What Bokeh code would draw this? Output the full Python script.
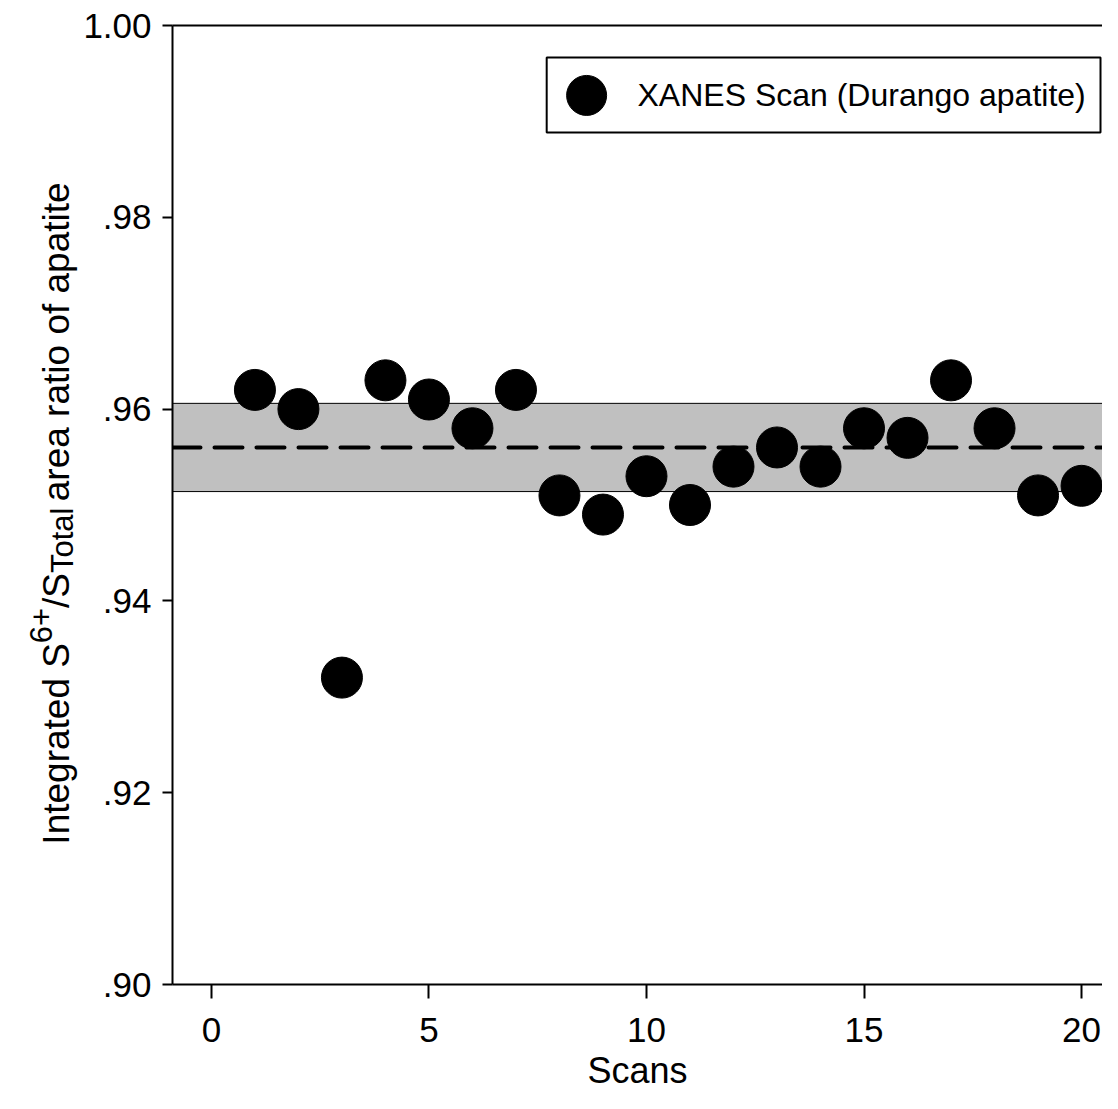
import math
from bokeh.plotting import figure
from bokeh.layouts import row
from bokeh.models import (Range1d, FixedTicker, Span, BoxAnnotation, Label,
                          LinearAxis, ColumnDataSource)
from bokeh.core.properties import value
from bokeh.embed import file_html
from bokeh.resources import INLINE

# ---------------- data ----------------
scans = list(range(1, 21))
ratio = [0.962, 0.960, 0.932, 0.963, 0.961, 0.958, 0.962, 0.951, 0.949, 0.953,
         0.950, 0.954, 0.956, 0.954, 0.958, 0.957, 0.963, 0.958, 0.951, 0.952]
mean_ratio = 0.956
band_low = 0.9514
band_high = 0.9606
x_ticks = [0, 5, 10, 15, 20]
y_ticks = [0.90, 0.92, 0.94, 0.96, 0.98, 1.00]
y_tick_labels = [".90", ".92", ".94", ".96", ".98", "1.00"]
legend_label = "XANES Scan (Durango apatite)"
x_title = "Scans"
y_title_parts = [("Integrated S", "main"), ("6+", "sup"), ("/S", "main"),
                 ("Total", "sub"), (" area ratio of apatite", "main")]

# ---------------- layout (page pixels) ----------------
FONT = "Liberation Sans"
TOTAL_W, H = 1102, 1093
TW = 80                      # width of the y-title strip
W = TOTAL_W - TW             # main figure width
FRAME_L = 170                # frame left (page px)
FRAME_T = 25
FRAME_H = 960
FRAME_B = FRAME_T + FRAME_H
FRAME_W = TOTAL_W - FRAME_L
px_per_x = 43.6
x_start = -(209 - FRAME_L) / px_per_x
x_end = x_start + FRAME_W / px_per_x
y_start, y_end = 0.90, 1.00


def dx(px):
    return x_start + (px - FRAME_L) / px_per_x


def dy(py):
    return y_end - (py - FRAME_T) / FRAME_H * (y_end - y_start)


AW = {'I': .278, 'n': .556, 't': .278, 'e': .556, 'g': .556, 'r': .333, 'a': .556,
      'd': .556, ' ': .278, 'S': .667, '6': .556, '+': .584, '/': .278, 'T': .611,
      'o': .556, 'l': .222, 'i': .222, 'f': .278, 'p': .556}


def text_w(s, size):
    return sum(AW.get(c, .556) for c in s) * size


y_range = Range1d(y_start, y_end)

# ---------------- main figure ----------------
p = figure(width=W, height=H, output_backend="svg", toolbar_location=None,
           x_range=Range1d(x_start, x_end), y_range=y_range,
           min_border_left=FRAME_L - TW, min_border_top=FRAME_T, min_border_right=0,
           min_border_bottom=H - FRAME_B)
p.xgrid.visible = False
p.ygrid.visible = False
p.outline_line_color = None
p.background_fill_color = "white"
p.border_fill_color = "white"

p.add_layout(BoxAnnotation(bottom=band_low, top=band_high, fill_color="#c0c0c0",
                           fill_alpha=1, line_color=None, level="underlay"))
for v in (band_low, band_high):
    p.add_layout(Span(location=v, dimension="width", line_color="black",
                      line_width=1, level="underlay"))
p.add_layout(Span(location=mean_ratio, dimension="width", line_color="black",
                  line_width=4, line_dash="28 14", line_cap="round", level="underlay"))

src = ColumnDataSource(dict(x=scans, y=ratio))
p.scatter("x", "y", source=src, size=41, fill_color="black", line_color="black")

for ax in (p.xaxis[0], p.yaxis[0]):
    ax.axis_line_width = 2
    ax.axis_line_color = "black"
    ax.major_tick_line_width = 2
    ax.major_tick_line_color = "black"
    ax.major_tick_in = 0
    ax.minor_tick_line_color = None
    ax.major_label_text_font = FONT
    ax.major_label_text_font_size = "35px"
    ax.major_label_text_color = "black"
    ax.axis_label_text_font = FONT
    ax.axis_label_text_font_style = "normal"
    ax.axis_label_text_font_size = "36px"
    ax.axis_label_text_color = "black"

p.xaxis[0].ticker = FixedTicker(ticks=x_ticks)
p.xaxis[0].major_tick_out = 14
p.xaxis[0].major_label_standoff = 19
p.xaxis[0].axis_label = x_title
p.xaxis[0].axis_label_standoff = 5

p.yaxis[0].ticker = FixedTicker(ticks=y_ticks)
p.yaxis[0].major_label_overrides = {t: l for t, l in zip(y_ticks, y_tick_labels)}
p.yaxis[0].major_tick_out = 10
p.yaxis[0].major_label_standoff = 11

top_ax = LinearAxis(ticker=FixedTicker(ticks=[]), axis_line_width=2,
                    axis_line_color="black", major_tick_line_color=None,
                    minor_tick_line_color=None, major_label_text_font_size="0px",
                    major_label_standoff=0)
p.add_layout(top_ax, "above")

# legend: box, swatch, text
p.add_layout(BoxAnnotation(left=dx(545), right=dx(1100), top=dy(57), bottom=dy(132),
                           fill_color="white", fill_alpha=1, line_color="black",
                           line_alpha=1, line_width=2))
leg_src = ColumnDataSource(dict(x=[dx(585)], y=[dy(95)]))
p.scatter("x", "y", source=leg_src, size=40, fill_color="black",
          line_color="black", level="overlay")
p.add_layout(Label(x=dx(636), y=dy(95), text=legend_label, text_align="left",
                   text_baseline="middle", text_font=FONT, text_font_size="32px",
                   text_color="black"))

# ---------------- y-title strip (frame aligned with main frame) ----------------
t = figure(width=TW, height=H, output_backend="svg", toolbar_location=None,
           x_range=Range1d(0, TW), y_range=y_range,
           x_axis_location=None, y_axis_location=None,
           min_border_left=0, min_border_right=0,
           min_border_top=FRAME_T, min_border_bottom=H - FRAME_B)
t.xgrid.visible = False
t.ygrid.visible = False
t.outline_line_color = None
t.background_fill_color = "white"
t.border_fill_color = "white"

F_MAIN, F_SCRIPT = 37, 31
base_x = 56
cy = 845
for txt, kind in y_title_parts:
    size = F_MAIN if kind == "main" else F_SCRIPT
    bx = base_x + (-16 if kind == "sup" else (6 if kind == "sub" else 0))
    t.text(x=[bx], y=[dy(cy)], text=[txt], angle=math.pi / 2,
           text_align="left", text_baseline="alphabetic",
           text_font=value(FONT), text_font_size=value(f"{size}px"),
           text_color="black")
    cy -= text_w(txt, size) + (3 if kind == "sub" else 0)

layout = row(t, p, spacing=0)
open("out.html", "w").write(file_html(layout, INLINE))
